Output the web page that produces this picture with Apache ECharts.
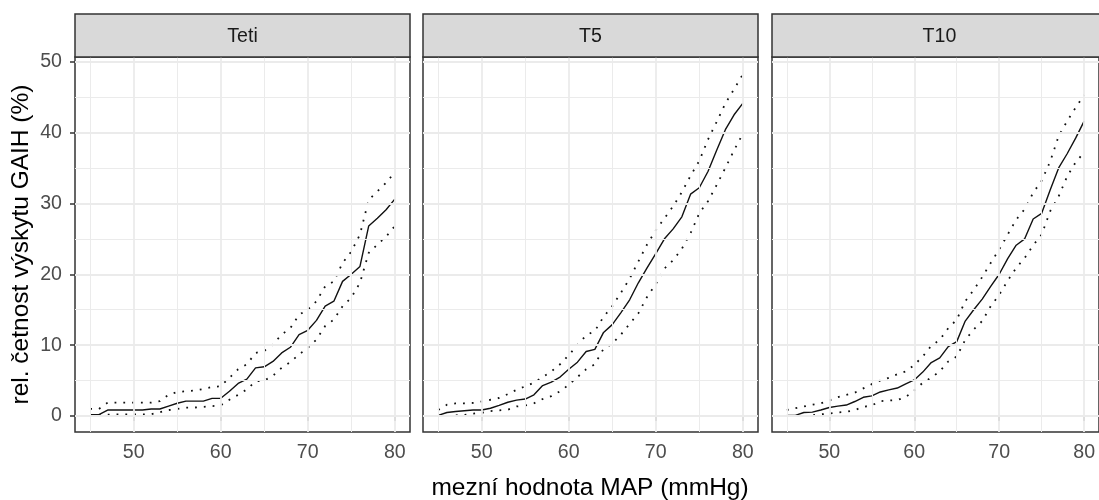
<!DOCTYPE html>
<html>
<head>
<meta charset="utf-8">
<script src="https://cdn.jsdelivr.net/npm/echarts@6/dist/echarts.min.js"></script>
<style>
  html, body { margin: 0; padding: 0; background: #fff; }
  #chart { width: 1099px; height: 500px; }
</style>
</head>
<body>
<div id="chart"></div>
<script>
// mezní hodnota MAP (mmHg)
var mapValues = [45, 46, 47, 48, 49, 50, 51, 52, 53, 54, 55, 56, 57, 58, 59, 60, 61, 62,
                 63, 64, 65, 66, 67, 68, 69, 70, 71, 72, 73, 74, 75, 76, 77, 78, 79, 80];

var panelNames = ['Teti', 'T5', 'T10'];

// Teti
var tetiMid   = [0.2, 0.2, 0.85, 0.85, 0.85, 0.85, 0.85, 1.0, 1.0, 1.4, 1.8, 2.1, 2.1, 2.1, 2.5, 2.5, 3.5, 4.6,
                 5.2, 6.8, 6.95, 7.7, 8.9, 9.7, 11.5, 12.1, 13.5, 15.5, 16.2, 19.0, 20.0, 21.1, 26.8, 27.9, 29.1, 30.6];
var tetiUpper = [1.0, 1.0, 1.9, 1.9, 1.9, 1.9, 1.9, 1.9, 2.1, 3.0, 3.4, 3.5, 3.6, 3.8, 4.1, 4.2, 5.4, 6.6,
                 7.3, 8.9, 9.2, 10.1, 11.5, 12.4, 14.3, 15.0, 16.2, 18.3, 19.0, 21.6, 23.2, 25.6, 30.5, 31.7, 32.9, 34.4];
var tetiLower = [0.0, 0.1, 0.2, 0.25, 0.25, 0.25, 0.25, 0.25, 0.55, 0.85, 1.0, 1.2, 1.2, 1.3, 1.4, 1.5, 2.3, 3.0,
                 3.75, 4.9, 5.0, 5.7, 6.8, 7.6, 8.7, 9.6, 10.8, 12.7, 13.6, 15.5, 16.7, 18.8, 23.0, 24.2, 25.3, 26.8];

// T5
var t5Mid   = [0.1, 0.5, 0.65, 0.75, 0.85, 0.85, 1.1, 1.5, 1.95, 2.25, 2.4, 3.0, 4.3, 4.8, 5.5, 6.6, 7.6, 9.1,
               9.4, 11.8, 12.9, 14.6, 16.4, 18.8, 20.9, 22.9, 25.0, 26.4, 28.1, 31.3, 32.2, 34.5, 37.5, 40.4, 42.5, 44.1];
var t5Upper = [0.85, 1.6, 1.8, 1.8, 1.85, 2.05, 2.3, 2.55, 3.1, 3.7, 4.2, 4.7, 5.5, 6.3, 7.3, 8.6, 10.0, 11.4,
               12.0, 14.0, 15.5, 17.4, 19.4, 21.8, 24.2, 26.2, 27.9, 29.6, 31.6, 33.9, 36.0, 39.0, 41.5, 44.1, 46.1, 48.2];
var t5Lower = [0.0, 0.0, 0.1, 0.15, 0.35, 0.45, 0.7, 0.8, 0.9, 1.35, 1.5, 1.8, 2.4, 2.8, 3.5, 4.4, 5.5, 6.6,
               7.3, 9.5, 10.2, 11.5, 13.0, 14.5, 16.8, 18.6, 20.8, 22.0, 23.6, 25.8, 28.6, 30.3, 32.6, 35.0, 37.5, 39.8];

// T10
var t10Mid   = [0.1, 0.1, 0.5, 0.55, 0.85, 1.2, 1.4, 1.55, 2.05, 2.65, 2.85, 3.4, 3.7, 3.95, 4.55, 5.1, 6.2, 7.55,
                8.2, 9.8, 10.5, 13.4, 15.0, 16.5, 18.3, 20.0, 22.2, 24.1, 25.0, 27.8, 28.6, 31.9, 35.0, 37.0, 39.2, 41.6];
var t10Upper = [0.85, 1.1, 1.35, 1.6, 1.8, 2.2, 2.65, 3.0, 3.3, 3.9, 4.5, 5.0, 5.4, 5.9, 6.3, 7.2, 8.4, 9.9,
                10.75, 12.4, 13.6, 16.2, 17.8, 19.6, 21.6, 23.5, 25.6, 27.7, 29.2, 31.5, 33.2, 35.9, 39.5, 41.6, 43.5, 45.3];
var t10Lower = [0.0, 0.0, 0.0, 0.1, 0.25, 0.35, 0.5, 0.6, 0.85, 1.3, 1.5, 2.1, 2.2, 2.25, 2.7, 3.6, 4.7, 5.4,
                6.3, 7.7, 8.4, 10.75, 12.2, 13.4, 15.5, 17.1, 19.1, 20.9, 22.3, 24.1, 25.6, 28.9, 31.0, 33.8, 35.8, 37.2];

// osy
var xTicks = [50, 60, 70, 80];
var xMinorGrid = [45, 55, 65, 75];
var yTicks = [0, 10, 20, 30, 40, 50];
var yMinorGrid = [5, 15, 25, 35, 45];

var panelData = [
  [tetiMid, tetiUpper, tetiLower],
  [t5Mid, t5Upper, t5Lower],
  [t10Mid, t10Upper, t10Lower]
];

var FONT = "'Liberation Sans', Arial, sans-serif";
var panelLefts = [75, 423, 772];
var panelTop = 57, panelW = 335, panelH = 375;
var stripTop = 14;

function pairs(vals) {
  return mapValues.map(function (x, i) { return [x, vals[i]]; });
}

var grids = [], xAxes = [], yAxes = [], series = [], graphics = [];

panelNames.forEach(function (name, p) {
  grids.push({
    left: panelLefts[p], top: panelTop, width: panelW, height: panelH,
    show: true, borderColor: '#333', borderWidth: 1.5, backgroundColor: '#fff'
  });
  xAxes.push({
    type: 'value', gridIndex: p, min: 43.25, max: 81.75,
    axisLine: { show: false },
    splitLine: { show: false },
    axisTick: { show: true, customValues: xTicks, length: 5, lineStyle: { color: '#333', width: 1.5 } },
    axisLabel: { customValues: xTicks, color: '#4d4d4d', fontSize: 19.6, fontFamily: FONT, margin: 11 }
  });
  yAxes.push({
    type: 'value', gridIndex: p, min: -2.25, max: 50.65,
    axisLine: { show: false },
    splitLine: { show: false },
    axisTick: { show: p === 0, customValues: yTicks, length: 5, lineStyle: { color: '#333', width: 1.5 } },
    axisLabel: { show: p === 0, customValues: yTicks, color: '#4d4d4d', fontSize: 19.6, fontFamily: FONT, margin: 13 }
  });

  // mřížka
  var gl = [];
  xMinorGrid.forEach(function (v) { gl.push({ xAxis: v, lineStyle: { color: '#ebebeb', width: 1, type: 'solid' } }); });
  yMinorGrid.forEach(function (v) { gl.push({ yAxis: v, lineStyle: { color: '#ebebeb', width: 1, type: 'solid' } }); });
  xTicks.forEach(function (v) { gl.push({ xAxis: v, lineStyle: { color: '#ebebeb', width: 1.8, type: 'solid' } }); });
  yTicks.forEach(function (v) { gl.push({ yAxis: v, lineStyle: { color: '#ebebeb', width: 1.8, type: 'solid' } }); });
  series.push({
    type: 'line', xAxisIndex: p, yAxisIndex: p, z: 1,
    data: [[45, 0]], showSymbol: false, lineStyle: { opacity: 0 },
    markLine: { silent: true, symbol: 'none', label: { show: false }, animation: false, data: gl }
  });

  var d = panelData[p];
  series.push({
    type: 'line', xAxisIndex: p, yAxisIndex: p, z: 3, data: pairs(d[0]),
    showSymbol: false, lineStyle: { color: '#111', width: 1.4 }
  });
  [d[1], d[2]].forEach(function (vals) {
    series.push({
      type: 'line', xAxisIndex: p, yAxisIndex: p, z: 3, data: pairs(vals),
      showSymbol: false, lineStyle: { color: '#111', width: 1.8, type: [1.8, 7], cap: 'butt' }
    });
  });

  // záhlaví panelu
  graphics.push({
    type: 'rect', z: 10,
    shape: { x: panelLefts[p], y: stripTop, width: panelW, height: panelTop - stripTop },
    style: { fill: '#d9d9d9', stroke: '#333', lineWidth: 1.5 }
  });
  graphics.push({
    type: 'text', z: 11, x: panelLefts[p] + panelW / 2, y: (stripTop + panelTop) / 2 + 1,
    style: { text: name, font: '19.6px ' + FONT, fill: '#1a1a1a', textAlign: 'center', textVerticalAlign: 'middle' }
  });
});

graphics.push({
  type: 'text', z: 11, x: 590, y: 488,
  style: { text: 'mezní hodnota MAP (mmHg)', font: '24.5px ' + FONT, fill: '#000', textAlign: 'center', textVerticalAlign: 'middle' }
});
graphics.push({
  type: 'text', z: 11, x: 21, y: panelTop + panelH / 2, rotation: Math.PI / 2,
  style: { text: 'rel. četnost výskytu GAIH (%)', font: '24.5px ' + FONT, fill: '#000', textAlign: 'center', textVerticalAlign: 'middle' }
});

var chart = echarts.init(document.getElementById('chart'));
chart.setOption({
  animation: false,
  backgroundColor: '#fff',
  grid: grids,
  xAxis: xAxes,
  yAxis: yAxes,
  series: series,
  graphic: graphics
});
</script>
</body>
</html>
